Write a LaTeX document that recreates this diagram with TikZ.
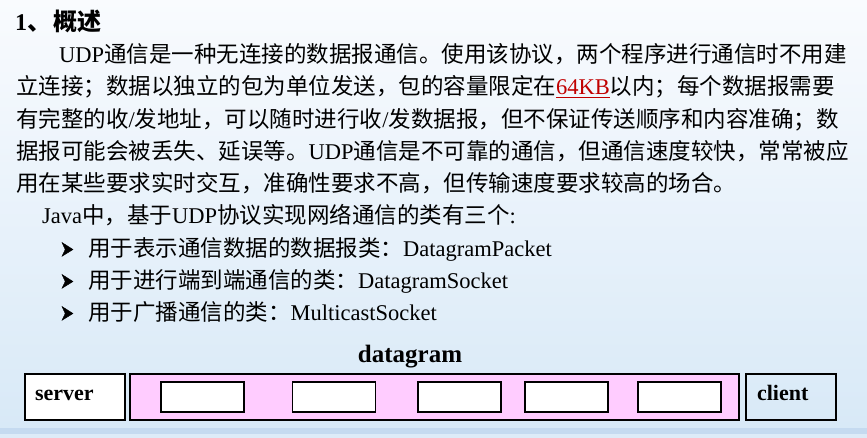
\documentclass[tikz,border=0pt]{standalone}
\usepackage{fontspec}
\setmainfont{Liberation Serif}
\newfontfamily\cjkfont{Noto Sans CJK SC}
\newcommand\zhs[1]{{\cjkfont #1}}
\newcommand\kbul[1]{\setbox0\hbox{#1}\rlap{\rule[-3.2bp]{\wd0}{1.2bp}}\box0}
\definecolor{kbred}{RGB}{192,0,0}
\definecolor{bgtop}{RGB}{249,251,254}
\definecolor{bgbot}{RGB}{216,233,247}
\definecolor{bandc}{RGB}{197,218,240}
\definecolor{bandlow}{RGB}{221,235,248}
\definecolor{pinkc}{RGB}{255,204,255}
\tikzset{
  txt/.style={anchor=base west, inner sep=0pt, font=\fontsize{22.5bp}{27bp}\selectfont},
  bulshape/.style={fill=black, draw=black, line width=0.4bp, line join=miter},
  outerbox/.style={draw, line width=1.6bp, minimum height=46bp, inner sep=0pt},
  endbox/.style={outerbox, align=left, text height=12bp, text depth=6bp, font=\bfseries\fontsize{22bp}{26bp}\selectfont},
  cell/.style={draw, line width=1.6bp, fill=white, minimum width=83bp, minimum height=30bp, inner sep=0pt}
}
\newcommand\bulletat[2]{%
  \path[bulshape] (#1,#2-7) -- (#1+11,#2) -- (#1,#2+6.8) -- (#1+3.2,#2) -- cycle;}
\begin{document}
\begin{tikzpicture}[x=1bp,y=-1bp]
\useasboundingbox (0,0) rectangle (867,438);
\shade[top color=bgtop, bottom color=bgbot] (0,0) rectangle (867,427.5);
\fill[bandc] (0,427.5) rectangle (867,434);
\fill[bandlow] (0,434) rectangle (867,438);

\node[txt, font=\bfseries\fontsize{24bp}{28bp}\selectfont] (t1) at (15,31) {1\zhs{、}\hspace{2bp}\zhs{概述}};
\node[txt] (t2) at (59,63) {UDP\zhs{通信是一种无连接的数据报通信。使用该协议，两个程序进行通信时不用建}};
\node[txt] (t3) at (16,95) {\zhs{立连接；数据以独立的包为单位发送，包的容量限定在}\textcolor{kbred}{\kbul{64KB}}\zhs{以内；每个数据报需要}};
\node[txt] (t4) at (16,128) {\zhs{有完整的收}/\zhs{发地址，可以随时进行收}/\zhs{发数据报，但不保证传送顺序和内容准确；数}};
\node[txt] (t5) at (16,160) {\zhs{据报可能会被丢失、延误等。}UDP\zhs{通信是不可靠的通信，但通信速度较快，常常被应}};
\node[txt] (t6) at (16,192) {\zhs{用在某些要求实时交互，准确性要求不高，但传输速度要求较高的场合。}};
\node[txt] (t7) at (42,224) {Java\zhs{中，基于}UDP\zhs{协议实现网络通信的类有三个}:};
\bulletat{62}{249.5}
\node[txt] (t8) at (88,257) {\zhs{用于表示通信数据的数据报类：}DatagramPacket};
\bulletat{62}{281.5}
\node[txt] (t9) at (88,289) {\zhs{用于进行端到端通信的类：}DatagramSocket};
\bulletat{62}{313.5}
\node[txt] (t10) at (88,321) {\zhs{用于广播通信的类：}MulticastSocket};

\node[anchor=base, inner sep=0pt, font=\bfseries\fontsize{25bp}{30bp}\selectfont] (dg) at (410,363) {datagram};

\node[endbox, fill=white, minimum width=100bp, text width=80bp] (server) at (75,397) {server};
\node[outerbox, fill=pinkc, minimum width=609bp] (packet) at (434.5,397) {};
\node[cell] (c1) at (202.5,397) {};
\node[cell] (c2) at (334,397) {};
\node[cell] (c3) at (459.5,397) {};
\node[cell] (c4) at (566.5,397) {};
\node[cell] (c5) at (679.5,397) {};
\node[endbox, minimum width=90bp, text width=68bp] (client) at (791,397) {client};
\end{tikzpicture}
\end{document}
